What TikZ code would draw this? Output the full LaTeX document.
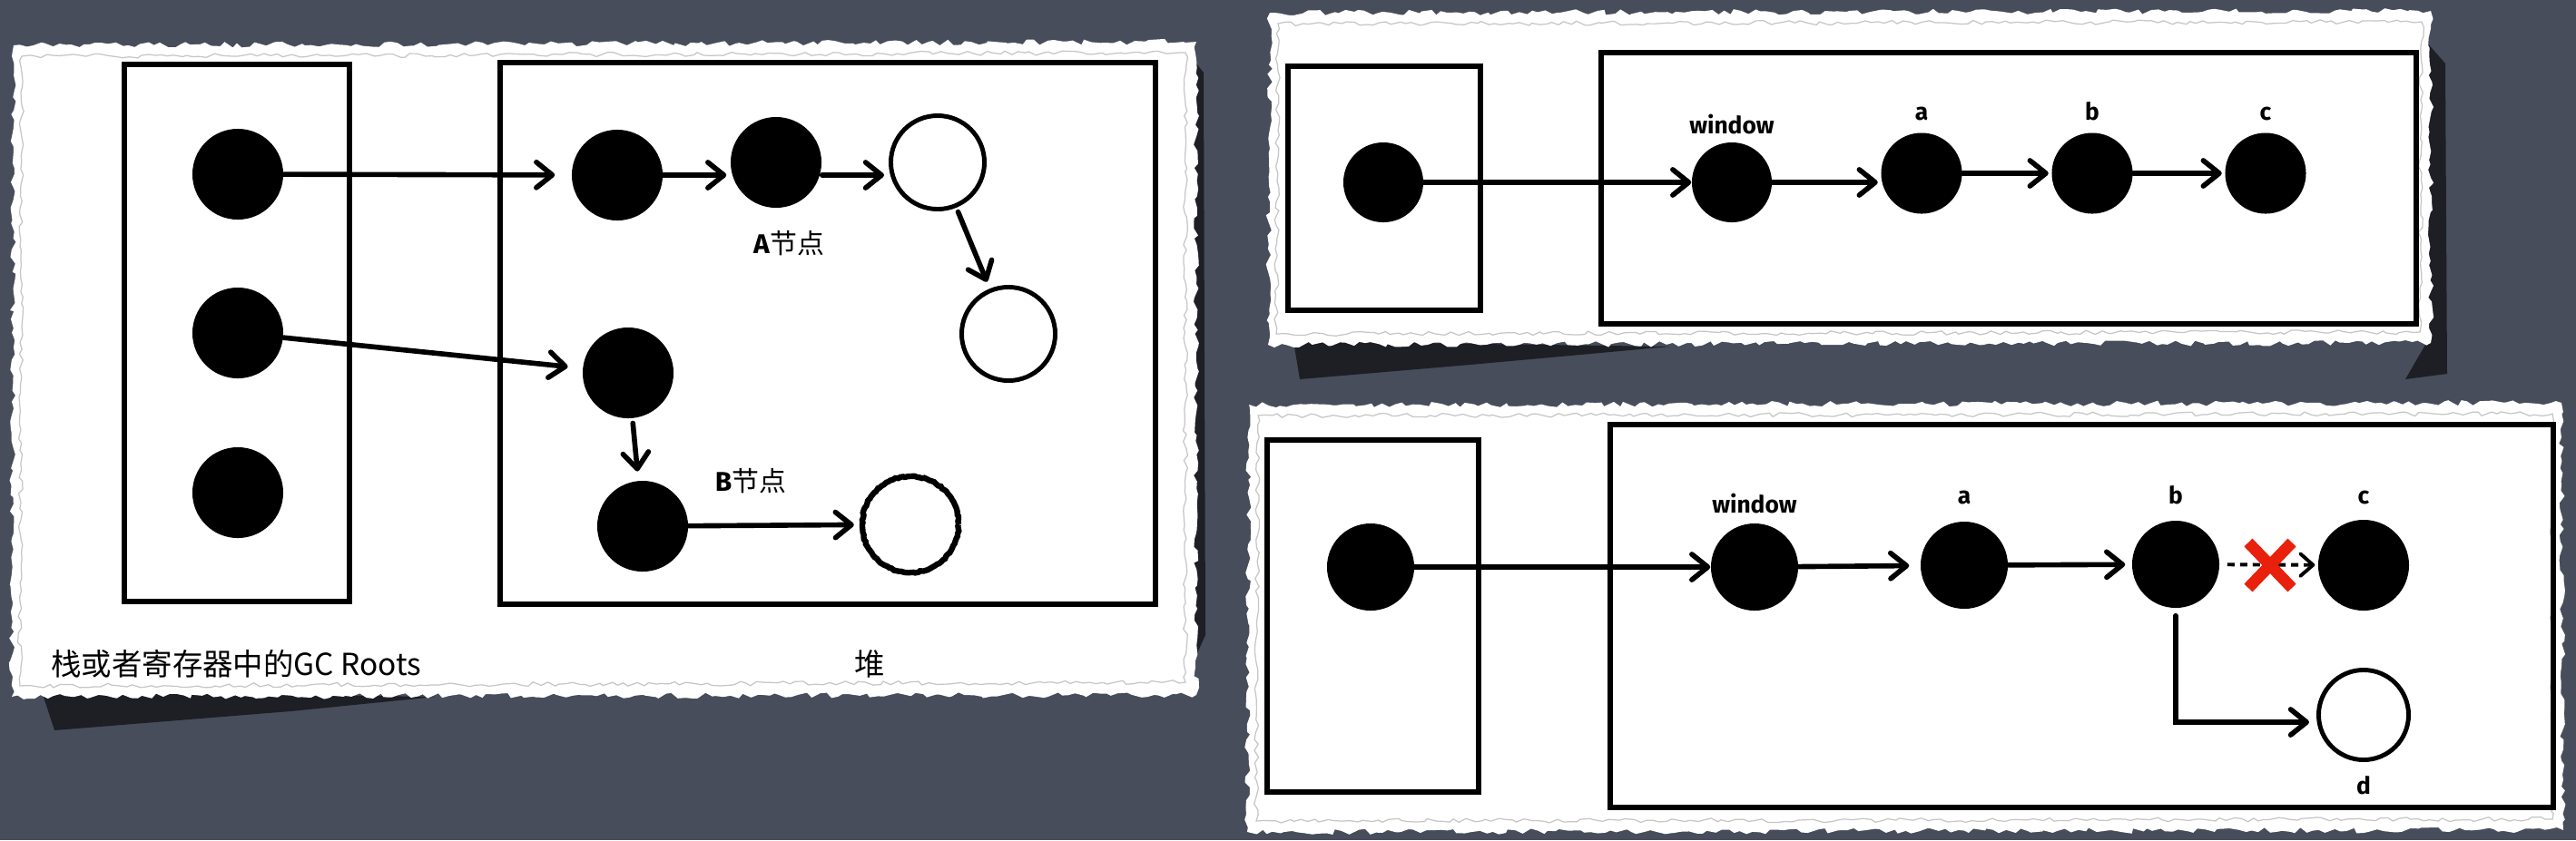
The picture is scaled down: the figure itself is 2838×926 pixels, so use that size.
\documentclass[tikz,border=0pt]{standalone}
\usepackage{fontspec}
\setmainfont{Fira Sans}
\newfontfamily\cjk{Noto Sans CJK SC}
\usetikzlibrary{arrows.meta,decorations.pathmorphing,calc}
\definecolor{slate}{RGB}{72,77,92}
\definecolor{xred}{RGB}{232,32,12}
\pgfmathsetseed{7}
\begin{document}
\begin{tikzpicture}[x=0.01cm,y=-0.01cm,
 blk/.style={circle,fill=black,inner sep=0pt,minimum size=#1},
 blk/.default=1cm,
 wht/.style={circle,draw=black,fill=white,line width=1.4pt,inner sep=0pt,minimum size=#1},
 wht/.default=1cm,
 rough/.style={decorate,decoration={random steps,segment length=0.8pt,amplitude=0.2pt},line width=1.8pt},
 box/.style={draw=black,line width=1.7pt},
 arr/.style={line width=1.6pt,line cap=round,-{Straight Barb[length=5pt,width=8pt,round]}},
 lbl/.style={font=\bfseries\fontsize{7.5}{9}\selectfont},
 cjklbl/.style={font=\fontsize{8.5}{10}\selectfont},
 paper/.style={fill=white,decorate,decoration={random steps,segment length=2pt,amplitude=0.9pt}},
 tear/.style={draw=gray!45,line width=0.35pt,decorate,decoration={random steps,segment length=2pt,amplitude=0.7pt}},
 shadow/.style={fill=black!85!slate,opacity=0.7},
 ]
% background
\fill[slate] (0,0) rectangle (2838,926);
\useasboundingbox (0,0) rectangle (2838,926);

% shadows
\fill[shadow] (46,762) -- (480,768) -- (320,784) -- (60,805) -- cycle;
\fill[shadow] (1425,376) -- (1840,382) -- (1620,402) -- (1432,418) -- cycle;
\fill[shadow] (2672,45) -- (2694,70) -- (2696,412) -- (2650,418) -- (2672,380) -- cycle;
\fill[shadow] (1310,60) -- (1326,80) -- (1328,700) -- (1310,740) -- cycle;

% papers
\path[paper] (15,50) -- (1318,46) -- (1318,766) -- (13,768) -- cycle;
\draw[tear] (24,62) -- (1306,58) -- (1306,752) -- (22,756) -- cycle;
\path[paper] (1399,14) -- (2678,12) -- (2678,378) -- (1397,380) -- cycle;
\draw[tear] (1408,26) -- (2668,24) -- (2666,366) -- (1406,368) -- cycle;
\path[paper] (1376,446) -- (2822,444) -- (2824,915) -- (1374,917) -- cycle;
\draw[tear] (1386,458) -- (2812,456) -- (2812,903) -- (1384,905) -- cycle;

% ---------- left panel ----------
\draw[box] (137,71) rectangle (385,663);
\draw[box] (551,69) rectangle (1273,666);

\node[blk] (s1) at (262,192) {};
\node[blk] (s2) at (262,367) {};
\node[blk] (s3) at (262,543) {};
\node[blk] (h1) at (680,193) {};
\node[blk] (h2) at (855,179) {};
\node[wht=1.03cm] (h3) at (1033,179) {};
\node[wht=1.03cm] (h4) at (1111,368) {};
\node[blk] (h5) at (692,411) {};
\node[blk] (h6) at (708,580) {};
\node[wht=1.06cm,rough] (h7) at (1003,578) {};

\draw[arr,shorten >=0.18cm] (s1) -- (h1);
\draw[arr,shorten >=0.04cm] (h1.east) -- (h1.east -| h2.west);
\draw[arr,shorten >=0.05cm] (h2.east |- h1) -- (h3.west |- h1);
\draw[arr,shorten <=0.05cm,shorten >=0.08cm] (h3) -- (h4);
\draw[arr,shorten >=0.16cm] (s2) -- (h5);
\draw[arr,shorten <=0.05cm,shorten >=0.1cm] (h5) -- (h6);
\draw[arr,shorten >=0.06cm] (h6) -- (h7);

\node[cjklbl] (la) at (869,268) {\textbf{A}{\cjk 节点}};
\node[cjklbl] (lb) at (827,530) {\textbf{B}{\cjk 节点}};
\node[font=\cjk\fontsize{9.5}{11}\selectfont,anchor=west] (gc) at (44,732) {栈或者寄存器中的GC Roots};
\node[font=\cjk\fontsize{9.5}{11}\selectfont] (heap) at (958,732) {堆};

% ---------- top right panel ----------
\draw[box] (1419,73) rectangle (1631,342);
\draw[box] (1764,58) rectangle (2662,357);

\node[blk=0.88cm] (t0) at (1524,201) {};
\node[blk=0.88cm] (tw) at (1908,201) {};
\node[blk=0.89cm] (ta) at (2117,191) {};
\node[blk=0.89cm] (tb) at (2305,191) {};
\node[blk=0.89cm] (tc) at (2496,191) {};

\draw[arr] (t0) -- (tw);
\draw[arr,shorten >=0.03cm] (tw.east) -- (tw.east -| ta.west);
\draw[arr,shorten >=0.03cm] (ta) -- (tb);
\draw[arr,shorten >=0.03cm] (tb) -- (tc);

\node[lbl] (twl) at (1908,137) {window};
\node[lbl] (tal) at (2117,125) {a};
\node[lbl] (tbl) at (2305,123) {b};
\node[lbl] (tcl) at (2496,125) {c};

% ---------- bottom right panel ----------
\draw[box] (1396,485) rectangle (1629,873);
\draw[box] (1774,468) rectangle (2813,890);

\node[blk=0.96cm] (b0) at (1510,625) {};
\node[blk=0.96cm] (bw) at (1933,625) {};
\node[blk=0.96cm] (ba) at (2164,623) {};
\node[blk=0.96cm] (bb) at (2397,622) {};
\node[blk=1cm] (bc) at (2604,623) {};
\node[wht=0.99cm] (bd) at (2604,788) {};
\coordinate (bturn) at (2397,796);

\draw[arr] (b0) -- (bw);
\draw[arr,shorten >=0.12cm] (bw) -- (ba);
\draw[arr,shorten >=0.07cm] (ba) -- (bb);
\draw[line width=1.1pt,dash pattern=on 2.3pt off 1.7pt,-{Straight Barb[length=4pt,width=7pt,round]},shorten <=0.08cm,shorten >=0.03cm] (bb) -- (bc);
\draw[arr,shorten <=0.08cm,shorten >=0.08cm] (bb.south) -- (bturn) -- (bturn -| bd.west);

\draw[xred,line width=3.6pt] (2477,598) -- (2525,648);
\draw[xred,line width=3.6pt] (2477,648) -- (2525,598);

\node[lbl] (bwl) at (1933,555) {window};
\node[lbl] (bal) at (2164,548) {a};
\node[lbl] (bbl) at (2397,546) {b};
\node[lbl] (bcl) at (2604,548) {c};
\node[lbl] (bdl) at (2604,866) {d};
\end{tikzpicture}
\end{document}
